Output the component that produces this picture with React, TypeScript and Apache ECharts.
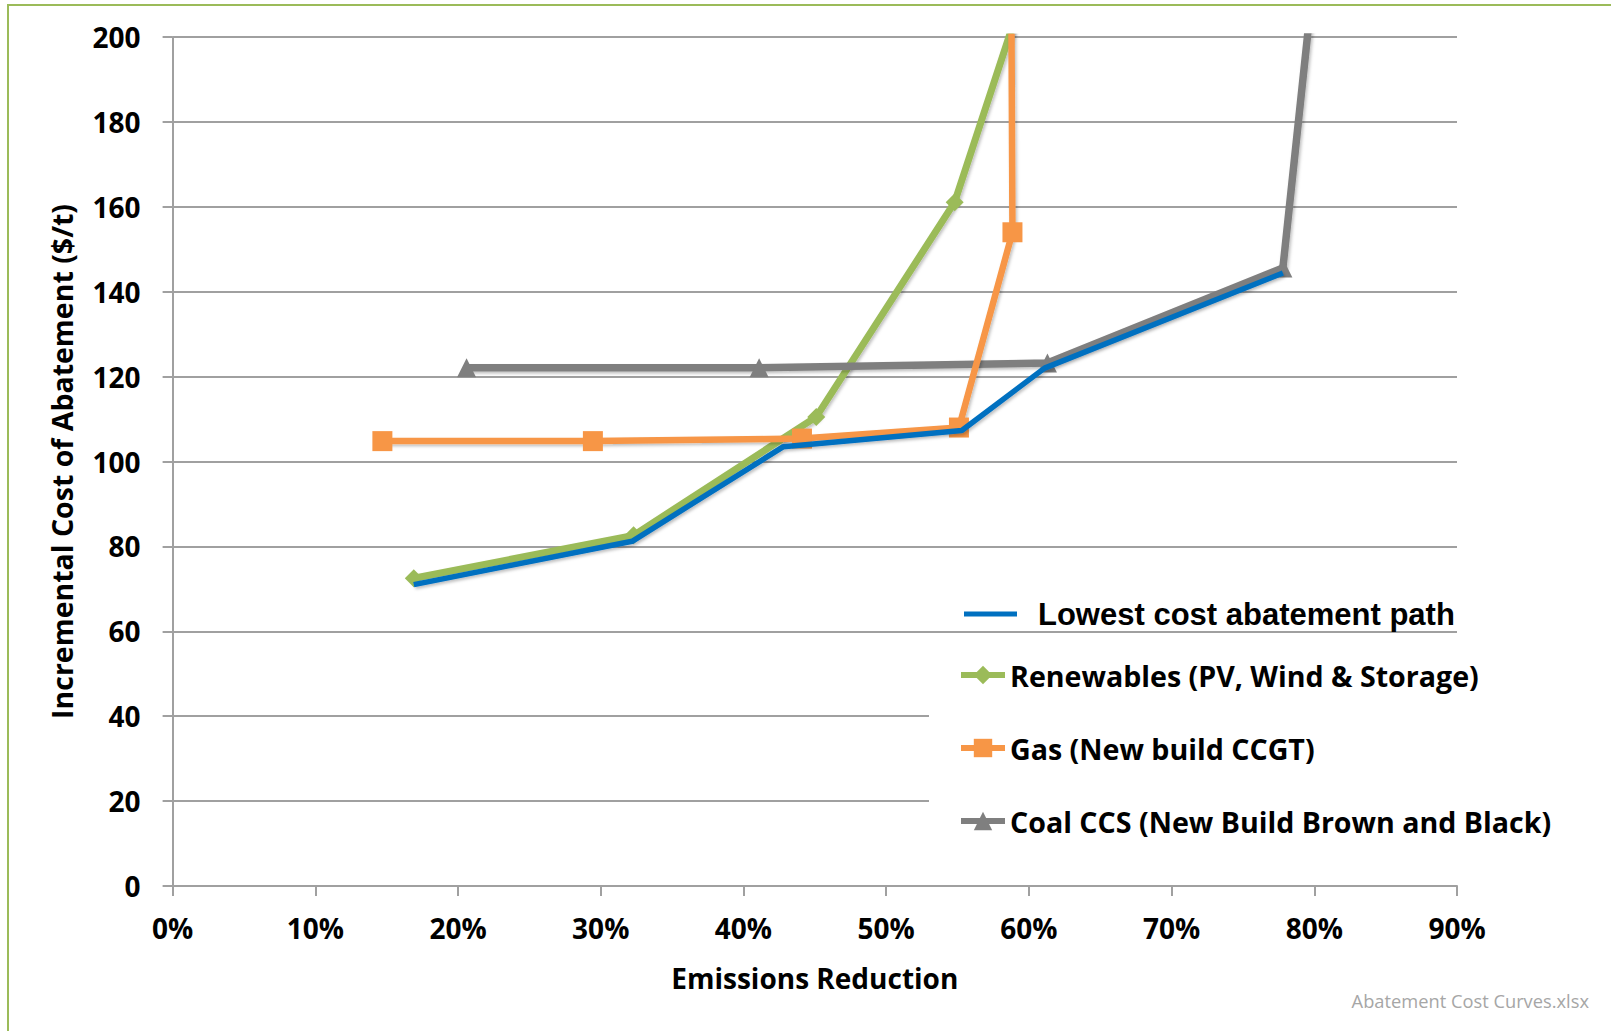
import React, { useEffect, useRef } from "react";
import * as echarts from "echarts";

// Emissions reduction (%) and incremental cost ($/t) for each series
const lowestX = [16.9, 32.2, 42.8, 55.3, 61.1, 77.8];
const lowestY = [71.0, 81.2, 103.5, 107.3, 122.0, 144.4];
const renewX = [16.9, 32.3, 45.1, 54.8, 59.6];
const renewY = [72.5, 82.6, 110.5, 161.1, 210.2];
const gasX = [14.7, 29.45, 44.1, 55.1, 58.85, 58.7];
const gasY = [104.8, 104.8, 105.4, 108.0, 154.0, 260.0];
const coalX = [20.6, 41.1, 61.3, 77.8, 80.0];
const coalY = [122.1, 122.1, 123.2, 145.6, 215.3];

const seriesNames = [
  "Lowest cost abatement path",
  "Renewables (PV, Wind & Storage)",
  "Gas (New build CCGT)",
  "Coal CCS (New Build Brown and Black)",
];
const xAxisTitle = "Emissions Reduction";
const yAxisTitle = "Incremental Cost of Abatement ($/t)";
const sourceNote = "Abatement Cost Curves.xlsx";

const pairs = (xs: number[], ys: number[]) => xs.map((x, i) => [x, ys[i]]);

const FONT = "'Open Sans', 'Noto Sans', sans-serif";
const GRID = "#A0A0A0";
const shadow = {
  shadowColor: "rgba(0,0,0,0.25)",
  shadowBlur: 3,
  shadowOffsetX: 1.5,
  shadowOffsetY: 2,
};

export default function App() {
  const ref = useRef<HTMLDivElement>(null);
  useEffect(() => {
    if (!ref.current) return;
    const chart = echarts.init(ref.current, null, { renderer: "svg" });
    const option: any = {
      animation: false,
      backgroundColor: "#ffffff",
      grid: { left: 172.6, right: 154, top: 37, bottom: 145, containLabel: false },
      xAxis: {
        type: "value",
        min: 0,
        max: 90,
        interval: 10,
        axisLine: { show: true, lineStyle: { color: GRID, width: 2 } },
        axisTick: { show: true, length: 10, lineStyle: { color: GRID, width: 2 } },
        splitLine: { show: false },
        axisLabel: {
          formatter: (v: number) => `${v}%`,
          fontFamily: FONT,
          fontWeight: "bold",
          fontSize: 28,
          lineHeight: 28,
          color: "#000",
          margin: 28,
        },
        name: xAxisTitle,
        nameLocation: "middle",
        nameGap: 78,
        nameTextStyle: {
          fontFamily: FONT,
          fontWeight: "bold",
          fontSize: 28,
          lineHeight: 28,
          color: "#000",
        },
      },
      yAxis: {
        type: "value",
        min: 0,
        max: 200,
        interval: 20,
        axisLine: { show: true, lineStyle: { color: GRID, width: 2 } },
        axisTick: { show: true, length: 10, lineStyle: { color: GRID, width: 2 } },
        splitLine: { show: true, lineStyle: { color: GRID, width: 2 } },
        axisLabel: {
          fontFamily: FONT,
          fontWeight: "bold",
          fontSize: 28,
          color: "#000",
          margin: 32,
        },
        name: yAxisTitle,
        nameLocation: "middle",
        nameRotate: 90,
        nameGap: 97,
        nameTextStyle: {
          fontFamily: FONT,
          fontWeight: "bold",
          fontSize: 28.5,
          lineHeight: 28,
          color: "#000",
        },
      },
      legend: [
        {
          data: [{ name: seriesNames[0], icon: "rect" }],
          orient: "vertical",
          left: 964,
          top: 598,
          padding: 0,
          itemWidth: 53,
          itemHeight: 5,
          textStyle: {
            fontFamily: "'Liberation Sans', Arial, sans-serif",
            fontWeight: "bold",
            fontSize: 31,
            lineHeight: 32,
            color: "#000",
            padding: [0, 0, 0, 16],
          },
        },
        {
          data: [seriesNames[1], seriesNames[2], seriesNames[3]],
          orient: "vertical",
          left: 929,
          top: 648,
          padding: [12, 20, 20, 29],
          itemGap: 43,
          itemWidth: 44,
          itemHeight: 23,
          lineStyle: { width: 6 },
          backgroundColor: "#ffffff",
          textStyle: {
            fontFamily: FONT,
            fontWeight: "bold",
            fontSize: 28.6,
            lineHeight: 30,
            color: "#000",
          },
        },
      ],
      series: [
        {
          name: seriesNames[1],
          type: "line",
          data: pairs(renewX, renewY),
          symbol: "diamond",
          symbolSize: 18,
          lineStyle: { color: "#9BBB59", width: 7, ...shadow },
          itemStyle: { color: "#9BBB59" },
          z: 2,
        },
        {
          name: seriesNames[3],
          type: "line",
          data: pairs(coalX, coalY),
          symbol: "triangle",
          symbolSize: 19,
          lineStyle: { color: "#7F7F7F", width: 7.5, ...shadow },
          itemStyle: { color: "#7F7F7F" },
          z: 3,
        },
        {
          name: seriesNames[2],
          type: "line",
          data: pairs(gasX, gasY),
          symbol: "rect",
          symbolSize: 20,
          lineStyle: { color: "#F79646", width: 6.5, ...shadow },
          itemStyle: { color: "#F79646" },
          z: 4,
        },
        {
          name: seriesNames[0],
          type: "line",
          data: pairs(lowestX, lowestY),
          symbol: "none",
          lineStyle: { color: "#0070C0", width: 5.5, ...shadow },
          itemStyle: { color: "#0070C0" },
          z: 5,
        },
      ],
      graphic: [
        {
          type: "polyline",
          shape: { points: [[8, 1031], [8, 5], [1611, 5]] },
          style: { stroke: "#9BBB59", lineWidth: 2, fill: "none" },
          silent: true,
        },
        {
          type: "text",
          right: 22,
          top: 991,
          style: {
            text: sourceNote,
            fontFamily: FONT,
            fontSize: 18.3,
            fill: "#A6A6A6",
          },
        },
      ],
    };
    chart.setOption(option);
    return () => chart.dispose();
  }, []);
  return (
    <div
      ref={ref}
      style={{ position: "absolute", left: 0, top: 0, width: 1611, height: 1031 }}
    />
  );
}
